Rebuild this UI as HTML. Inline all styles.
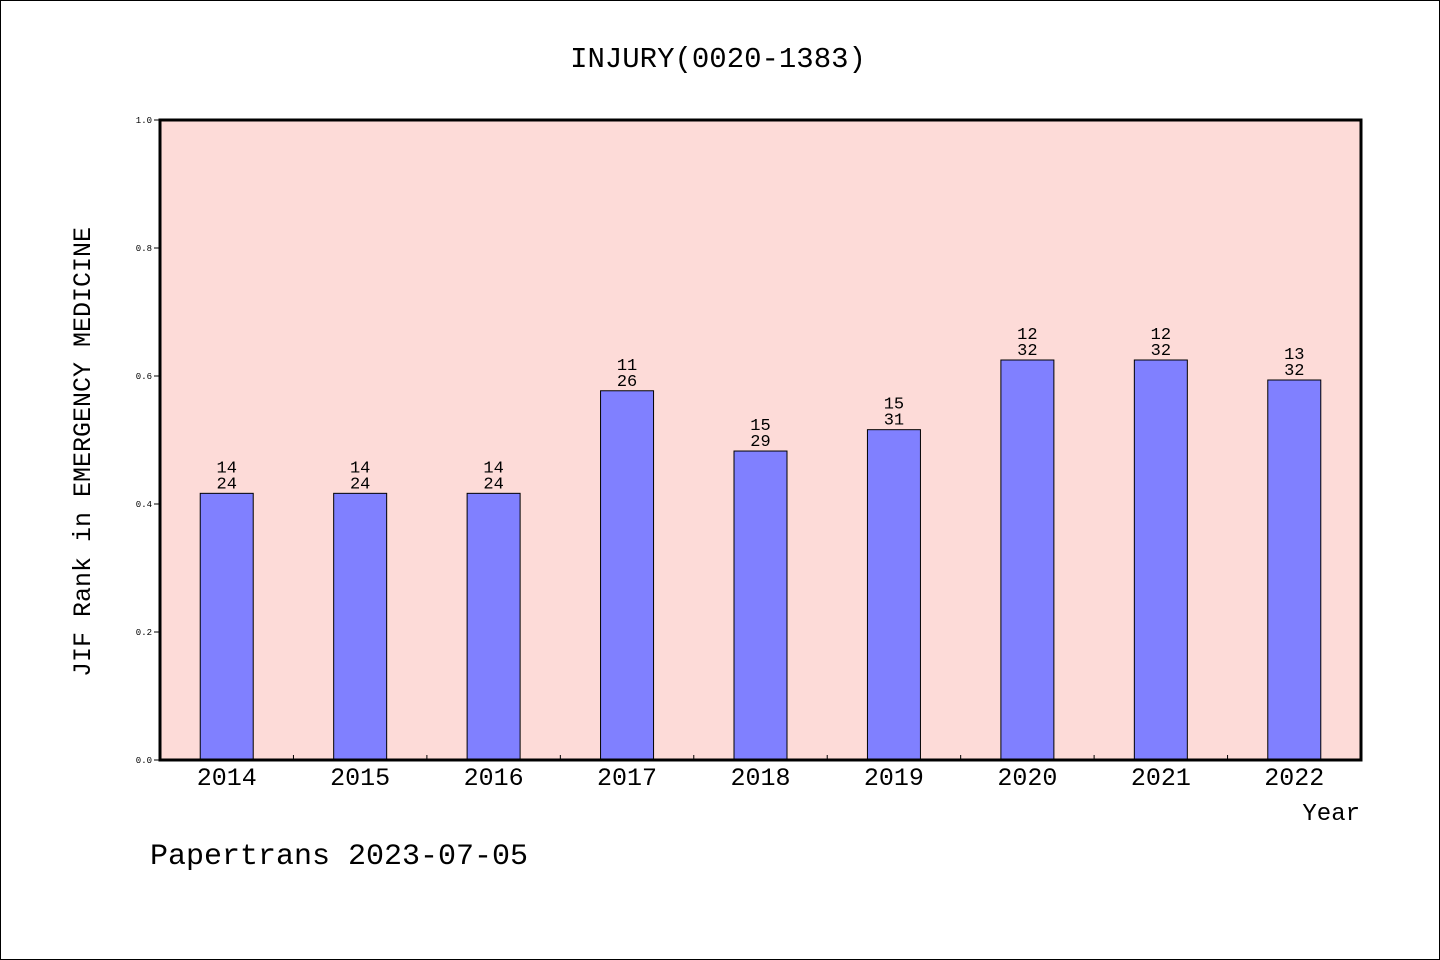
<!DOCTYPE html>
<html><head><meta charset="utf-8"><style>
html,body{margin:0;padding:0;background:#fff}
svg{display:block}
text{font-family:"Liberation Mono","WenQuanYi Zen Hei",monospace;fill:#000}
</style></head><body>
<svg id="chart" width="1440" height="960" xmlns="http://www.w3.org/2000/svg">
<rect x="0.5" y="0.5" width="1439" height="959" fill="#fff" stroke="#000"/>
<text x="718" y="67" font-size="29" text-anchor="middle">INJURY(0020-1383)</text>
<rect x="160" y="120" width="1201" height="640" fill="#fddbd8"/>
<g id="bars"></g>
<g id="axes"></g>
<rect x="160" y="120" width="1201" height="640" fill="none" stroke="#000" stroke-width="3"/>
<text transform="translate(90,452) rotate(-90)" font-size="25" text-anchor="middle">JIF Rank in EMERGENCY MEDICINE</text>
<text x="1360" y="820" font-size="24" text-anchor="end">Year</text>
<text x="150" y="864" font-size="30">Papertrans 2023-07-05</text>
</svg>
<script>
const years = ["2014","2015","2016","2017","2018","2019","2020","2021","2022"];
const ranks = [14,14,14,11,15,15,12,12,13];
const totals = [24,24,24,26,29,31,32,32,32];
const yTicks = ["0.0","0.2","0.4","0.6","0.8","1.0"];
const NS="http://www.w3.org/2000/svg";
const X0=160,W=1201,Y0=760,H=640;
const step=W/years.length;
const xC=i=>X0+step*(i+0.5);
const yS=v=>Y0-v*H;
function mk(tag,attrs,parent){const e=document.createElementNS(NS,tag);for(const k in attrs)e.setAttribute(k,attrs[k]);parent.appendChild(e);return e;}
const bars=document.getElementById('bars'),axes=document.getElementById('axes');
years.forEach((y,i)=>{
  const v=1-ranks[i]/totals[i];
  const r=mk('rect',{x:xC(i)-26.5,y:yS(v),width:53,height:Y0-yS(v),fill:'#8080ff',stroke:'#000','stroke-width':1},bars);
  
  
  const t1=mk('text',{x:xC(i),y:yS(v)-21,'font-size':17,'text-anchor':'middle'},bars);t1.textContent=ranks[i];
  
  
  const t2=mk('text',{x:xC(i),y:yS(v)-5,'font-size':17,'text-anchor':'middle'},bars);t2.textContent=totals[i];
  
  
  const xl=mk('text',{x:xC(i),y:785,'font-size':25,'text-anchor':'middle'},axes);xl.textContent=y;
  
  
  if(i>0){const tk=mk('line',{x1:X0+step*i,x2:X0+step*i,y1:Y0,y2:Y0-5,stroke:'#000'},axes);
  
  }
});
yTicks.forEach(s=>{
  const v=parseFloat(s);
  const tk=mk('line',{x1:X0-6,x2:X0,y1:yS(v),y2:yS(v),stroke:'#000'},axes);
  
  
  const l=mk('text',{x:X0-8,y:yS(v)+3,'font-size':9,'text-anchor':'end'},axes);l.textContent=s;
  
  
});
</script>
</body></html>
